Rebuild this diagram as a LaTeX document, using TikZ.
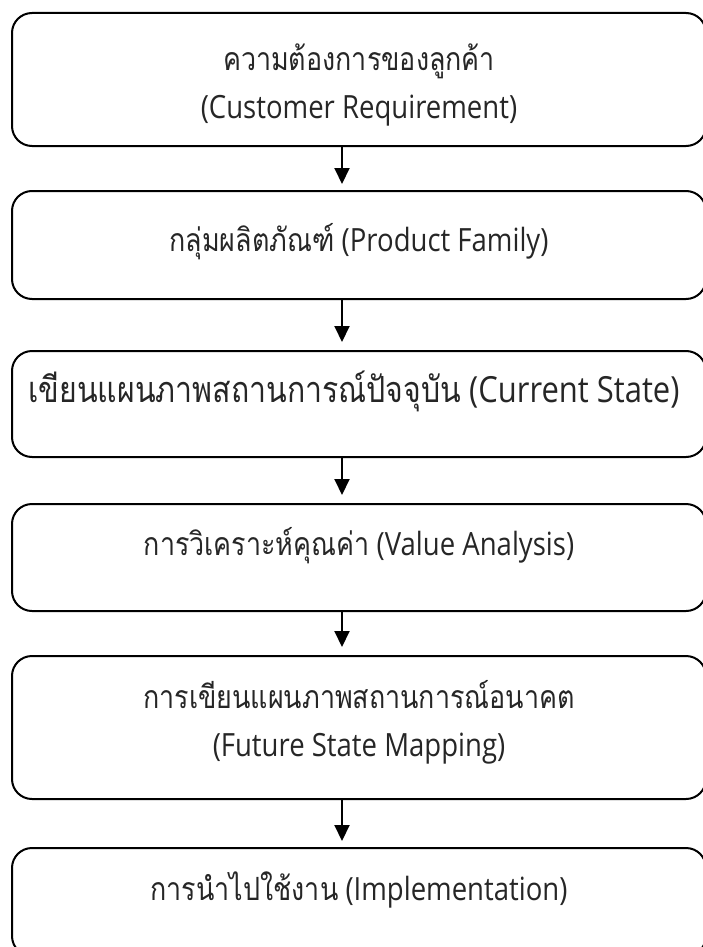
\documentclass[tikz,border=0pt]{standalone}
\usepackage{fontspec}
\setmainfont{Open Sans}[FakeStretch=0.86]
\newfontfamily\thaifont[Script=Thai,FakeStretch=0.84]{Loma}
\newcommand{\thai}[1]{{\thaifont #1}}
\usetikzlibrary{arrows.meta,positioning}
\tikzset{
  stepbox/.style = {draw, line width=2pt, rounded corners=20pt,
                    minimum width=694pt, inner sep=0pt},
  steplab/.style = {font=\fontsize{32}{48}\selectfont, align=center,
                    inner sep=0pt, anchor=base, text=black!85},
  flow/.style    = {-{Triangle[length=16pt,width=15pt]}, line width=2pt},
}

\begin{document}
\begin{tikzpicture}[x=1pt,y=1pt]
  \useasboundingbox (0,0) rectangle (702,-947);
  \node[stepbox, minimum height=133pt] (b1) at (359,-79.5) {};
  \node[stepbox, minimum height=108pt] (b2) at (359,-245) {};
  \node[stepbox, minimum height=106pt] (b3) at (359,-404) {};
  \node[stepbox, minimum height=107pt] (b4) at (359,-557.5) {};
  \node[stepbox, minimum height=143pt] (b5) at (359,-727.5) {};
  \node[stepbox, minimum height=108pt] (b6) at (359,-902) {};
  \node[steplab] (l1) at (359,-119) {\thai{ความต้องการของลูกค้า}\\(Customer Requirement)};
  \node[steplab] (l2) at (359,-251) {\thai{กลุ่มผลิตภัณฑ์} (Product Family)};
  \node[steplab, font=\fontsize{36}{48}\selectfont] (l3) at (354,-402) {\thai{เขียนแผนภาพสถานการณ์ปัจจุบัน} (Current State)};
  \node[steplab] (l4) at (359,-555) {\thai{การวิเคราะห์คุณค่า} (Value Analysis)};
  \node[steplab] (l5) at (359,-756) {\thai{การเขียนแผนภาพสถานการณ์อนาคต}\\(Future State Mapping)};
  \node[steplab] (l6) at (359,-900) {\thai{การนำไปใช้งาน} (Implementation)};
  \draw[flow] ([xshift=-17pt]b1.south) -- ([xshift=-17pt,yshift=6pt]b2.north);
  \draw[flow] ([xshift=-17pt]b2.south) -- ([xshift=-17pt,yshift=8pt]b3.north);
  \draw[flow] ([xshift=-17pt]b3.south) -- ([xshift=-17pt,yshift=8pt]b4.north);
  \draw[flow] ([xshift=-17pt]b4.south) -- ([xshift=-17pt,yshift=8pt]b5.north);
  \draw[flow] ([xshift=-17pt]b5.south) -- ([xshift=-17pt,yshift=6pt]b6.north);
\end{tikzpicture}
\end{document}
